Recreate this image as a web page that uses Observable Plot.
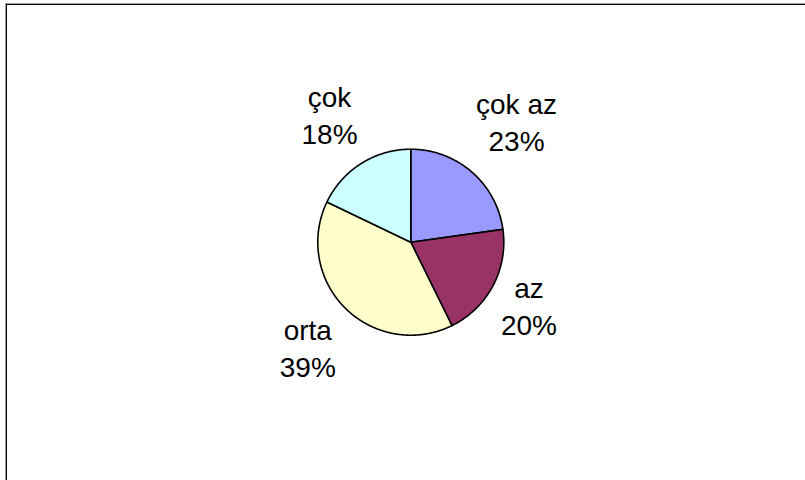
<!DOCTYPE html>
<html>
<head>
<meta charset="utf-8">
<script src="https://cdn.jsdelivr.net/npm/d3@7"></script>
<script src="https://cdn.jsdelivr.net/npm/@observablehq/plot@0.6"></script>
<style>
  html, body { margin: 0; padding: 0; overflow: hidden; background: #fff; width: 805px; height: 480px; }
  #chart { position: absolute; left: 0; top: 0; }
  .edge1 { position: absolute; left: 5px; top: 3px; width: 900px; height: 600px;
           border-top: 1px solid #a0a0a0; border-left: 1px solid #a0a0a0; pointer-events: none; }
  .edge2 { position: absolute; left: 6px; top: 4px; width: 900px; height: 600px;
           border-top: 1px solid #000; border-left: 1px solid #000; pointer-events: none; }
</style>
</head>
<body>
<div id="chart"></div>
<div class="edge1"></div>
<div class="edge2"></div>
<script>
// ---- data ----
const categories = ["çok az", "az", "orta", "çok"];
const values = [22.8, 19.9, 39.4, 17.9];
const colors = ["#9999FF", "#993366", "#FFFFCC", "#CCFFFF"];

// ---- layout ----
const CX = 410.3, CY = 241.7, R = 93;
const labelDistance = [1.731, 1.437, 1.576, 1.639];
const fontFamily = "'Liberation Sans', Arial, Helvetica, sans-serif";

const total = d3.sum(values);
const arcs = d3.pie().sort(null).value(d => d)(values);

const slicePoints = [];
arcs.forEach((a, i) => {
  const cat = categories[i];
  const steps = Math.max(2, Math.ceil((a.endAngle - a.startAngle) / (Math.PI / 360)));
  slicePoints.push({cat, x: 0, y: 0});
  for (let k = 0; k <= steps; k++) {
    const t = a.startAngle + (a.endAngle - a.startAngle) * k / steps;
    slicePoints.push({cat, x: Math.sin(t), y: Math.cos(t)});
  }
  slicePoints.push({cat, x: 0, y: 0});
});

const labels = arcs.map((a, i) => {
  const m = (a.startAngle + a.endAngle) / 2;
  const r = labelDistance[i];
  return {
    x: r * Math.sin(m),
    y: r * Math.cos(m),
    text: `${categories[i]}\n${Math.round(values[i] / total * 100)}%`
  };
});

const plot = Plot.plot({
  width: 805,
  height: 480,
  x: {domain: [-1, 1], range: [CX - R, CX + R], axis: null},
  y: {domain: [-1, 1], range: [CY + R, CY - R], axis: null},
  color: {domain: categories, range: colors},
  style: {background: "transparent", fontFamily},
  marks: [
    Plot.line(slicePoints, {
      x: "x", y: "y", z: "cat", fill: "cat",
      stroke: "black", strokeWidth: 1.6, strokeLinejoin: "round"
    }),
    Plot.text(labels, {
      x: "x", y: "y", text: "text",
      fontSize: 28, lineHeight: 1.33, lineAnchor: "middle",
      textAnchor: "middle", fill: "black", fontFamily
    })
  ]
});
document.getElementById("chart").appendChild(plot);
</script>
</body>
</html>
